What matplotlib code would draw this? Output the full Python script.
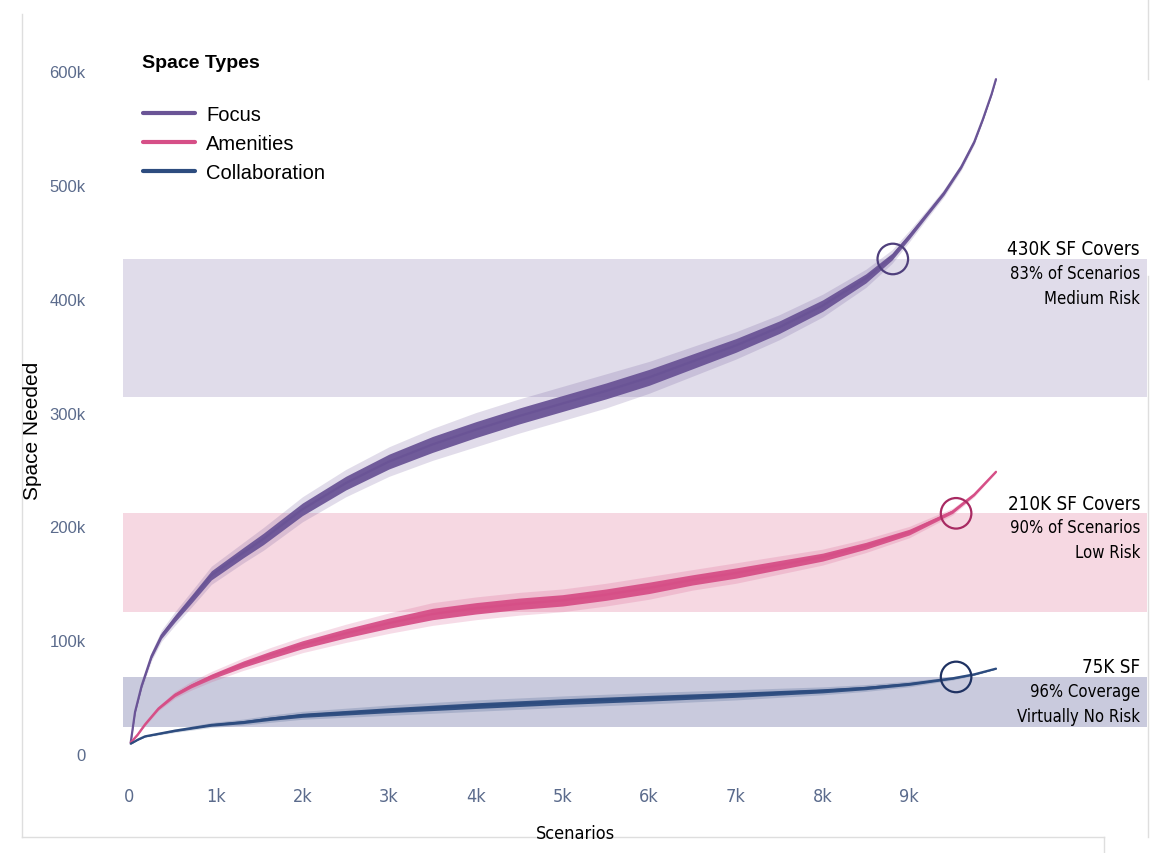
import matplotlib
matplotlib.use("Agg")
import matplotlib.pyplot as plt
import numpy as np
from matplotlib.lines import Line2D
from matplotlib.ticker import FuncFormatter

plt.rcParams['font.family'] = ['Liberation Sans', 'DejaVu Sans']
NARROW = dict(family=['DejaVu Sans'], stretch='condensed')

# scenario index (sorted), space needed in thousands of SF
scen_focus = [20, 70, 146, 260, 375, 530, 720, 950, 1320, 1550, 2000, 2500, 3000, 3500, 4000,
              4500, 5000, 5500, 6000, 6500, 7000, 7500, 8000, 8500, 8800, 9000, 9200, 9400, 9600,
              9750, 9850, 9950, 10000]
focus = [10, 37, 60, 86, 104, 119, 136, 157, 177, 189, 215, 238, 257, 272, 285,
         297, 308, 319, 331, 345, 359, 375, 394, 418, 437, 455, 474, 493, 516,
         538, 558, 580, 593]
focus_core = [0.5, 1, 1.5, 2, 2.5, 3, 3.5, 4, 4.5, 5, 5.5, 6, 6.5, 7, 7,
              7, 7, 7, 7, 6.5, 6, 5.5, 5, 4, 3, 2.5, 2, 1.8, 1.5,
              1.2, 1, 0.8, 0.5]
focus_spike = [1, 2, 3, 4, 5, 6, 7, 8, 9, 10, 11, 12, 13, 14, 15,
               15, 15, 15, 14, 13, 12, 11, 10, 8, 6, 5, 4, 3.5, 3,
               2.5, 2, 1.5, 1]

scen_amen = [20, 100, 185, 340, 530, 720, 950, 1320, 1630, 2000, 2500, 3000, 3500, 4000, 4500, 5000,
             5500, 6000, 6500, 7000, 7500, 8000, 8500, 9000, 9250, 9500, 9750, 10000]
amen = [10, 17, 26, 40, 52, 60, 68, 79, 87, 96, 106, 115, 123, 128, 132, 135,
        140, 146, 153, 159, 166, 173, 183, 195, 204, 213, 228, 248]
amen_core = [0.3, 0.5, 0.7, 1, 1.5, 1.8, 2.2, 2.8, 3.2, 3.5, 4, 4.5, 5, 5, 5, 5,
             5, 5, 4.5, 4.5, 4, 3.5, 3, 2.5, 2, 1.5, 1, 0.5]
amen_spike = [0.5, 1, 1.5, 2, 3, 3.8, 4.5, 5.5, 6.5, 7, 8, 9, 10, 10, 10, 10,
              10, 10, 9, 9, 8, 7, 6, 5, 4, 3, 2, 1]

scen_collab = [20, 100, 185, 530, 950, 1320, 1630, 2000, 3000, 4000, 5000, 6000, 7000, 8000,
               8500, 9000, 9500, 9750, 10000]
collab = [9, 12.5, 15.5, 20.5, 25.5, 28, 31, 34, 38.5, 42.5, 46, 49, 52, 55.5,
          58, 61.5, 66.5, 70, 75]
collab_core = [0.2, 0.4, 0.5, 0.8, 1.1, 1.3, 1.5, 1.8, 2.2, 2.5, 2.5, 2.5, 2.2, 1.8,
               1.5, 1.2, 0.8, 0.6, 0.4]
collab_spike = [0.3, 0.6, 0.8, 1.5, 2.2, 2.7, 3.2, 3.5, 4.5, 5, 5, 5, 4.5, 3.5,
                3, 2.5, 1.5, 1, 0.6]

# coverage bands (k SF) and marked points
band_low = [313.7, 124.8, 23.7]
band_high = [435, 211.5, 67.7]
mark_x = [8810, 9540, 9540]
mark_y = [435, 211.5, 67.7]
notes = [["430K SF Covers", "83% of Scenarios", "Medium Risk"],
         ["210K SF Covers", "90% of Scenarios", "Low Risk"],
         ["75K SF", "96% Coverage", "Virtually No Risk"]]

names = ['Focus', 'Amenities', 'Collaboration']
line_cols = ['#6a5496', '#d64f87', '#2d4c7f']
band_cols = ['#e0dcea', '#f6d8e2', '#c9cadd']
ring_cols = ['#4f3f7c', '#a82a62', '#1f3262']

fig = plt.figure(figsize=(11.6, 8.54), dpi=100)
ax = fig.add_axes([123 / 1160, 94 / 854, 1024 / 1160, 720 / 854])
ax.set_xlim(-69, 11742)
ax.set_ylim(-4.4, 628.3)

for lo, hi, c in zip(band_low, band_high, band_cols):
    ax.axhspan(lo, hi, color=c, lw=0, zorder=0)

series = [(scen_focus, focus, focus_core, focus_spike),
          (scen_amen, amen, amen_core, amen_spike),
          (scen_collab, collab, collab_core, collab_spike)]
handles = []
for (sx, sy, core, spike), col, name in zip(series, line_cols, names):
    sx = np.array(sx); sy = np.array(sy)
    ax.fill_between(sx, sy - np.array(spike), sy + np.array(spike), color=col, alpha=0.2, lw=0, zorder=2)
    ax.fill_between(sx, sy - np.array(core), sy + np.array(core), color=col, alpha=0.95, lw=0, zorder=3)
    h, = ax.plot(sx, sy, color=col, lw=1.6, zorder=4, label=name, solid_capstyle='round',
                 solid_joinstyle='round')
    handles.append(h)

ax.scatter(mark_x, mark_y, s=22 ** 2, facecolors='none', edgecolors=ring_cols, linewidths=1.6, zorder=5)

for lines, hi in zip(notes, band_high):
    ax.annotate(lines[0], xy=(1, hi), xycoords=('axes fraction', 'data'), xytext=(-7, 10),
                textcoords='offset pixels', ha='right', va='center', fontsize=13.5, **NARROW)
    for i, t in enumerate(lines[1:]):
        ax.annotate(t, xy=(1, hi), xycoords=('axes fraction', 'data'), xytext=(-7, -14 - 25 * i),
                    textcoords='offset pixels', ha='right', va='center', fontsize=12, **NARROW)

ax.set_xticks(range(0, 10000, 1000))
ax.set_yticks(range(0, 700, 100))
ax.xaxis.set_major_formatter(FuncFormatter(lambda v, p: '0' if v == 0 else f'{int(v / 1000)}k'))
ax.yaxis.set_major_formatter(FuncFormatter(lambda v, p: '0' if v == 0 else f'{int(v)}k'))
ax.tick_params(axis='both', length=0, colors='#5b6b8c', labelsize=12)
ax.tick_params(axis='y', pad=27)
ax.tick_params(axis='x', pad=20)
for lab in ax.get_xticklabels():
    lab.set_family(NARROW['family'])
    lab.set_stretch('condensed')
    lab.set_fontsize(13)
for s in ax.spines.values():
    s.set_visible(False)

fig.text(575 / 1160, 1 - 834 / 854, 'Scenarios', ha='center', va='center', fontsize=13, **NARROW)
fig.text(32 / 1160, 1 - 431 / 854, 'Space Needed', ha='center', va='center', rotation=90, fontsize=15)

fig.text(142 / 1160, 1 - 63 / 854, 'Space Types', ha='left', va='center', fontsize=14, fontweight='bold')
ax.legend(handles=handles, loc='upper left', bbox_to_anchor=(143 / 1160, 1 - 106 / 854),
          bbox_transform=fig.transFigure, frameon=False, fontsize=14.5, handlelength=2.6,
          handletextpad=0.55, labelspacing=0.5, borderpad=0, borderaxespad=0)
for h in ax.get_legend().legend_handles:
    h.set_linewidth(3)

# light page frame lines
frame = '#dedede'
for xs, ys in [((22, 22), (15, 838)), ((22, 1104), (838, 838)), ((1104, 1104), (838, 854)),
               ((1148, 1148), (0, 80)), ((1148, 1148), (277, 838))]:
    fig.add_artist(Line2D([x / 1160 for x in xs], [1 - y / 854 for y in ys], color=frame, lw=1))

fig.savefig('out.png', dpi=100)
